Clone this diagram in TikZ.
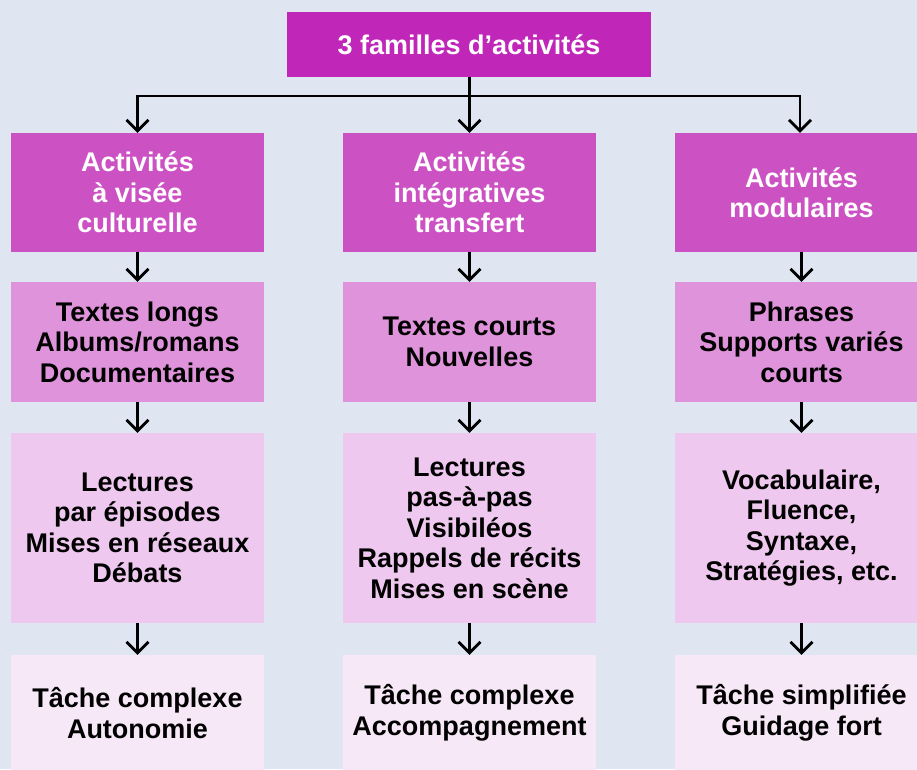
\documentclass[tikz,border=0pt]{standalone}
\usepackage{fontspec}
\setmainfont{Liberation Sans}
\usetikzlibrary{arrows.meta}
\definecolor{bgc}{HTML}{DFE6F2}
\definecolor{topc}{HTML}{C026B8}
\definecolor{rowa}{HTML}{CC52C4}
\definecolor{rowb}{HTML}{DF93DB}
\definecolor{rowc}{HTML}{EEC8EE}
\definecolor{rowd}{HTML}{F7E8F7}
\tikzset{
  box/.style={draw=none, minimum width=253pt, inner sep=0pt, align=center,
    font=\fontsize{27}{30.5}\selectfont\bfseries},
  ra/.style={box, fill=rowa, text=white, minimum height=119pt},
  rb/.style={box, fill=rowb, text=black, minimum height=120pt},
  rc/.style={box, fill=rowc, text=black, minimum height=190pt},
  rd/.style={box, fill=rowd, text=black, minimum height=116pt},
  arr/.style={draw=black, line width=2.8pt, -{Straight Barb[length=11pt,width=22pt]}},
  ln/.style={draw=black, line width=2.8pt}
}
\begin{document}
\begin{tikzpicture}[x=1pt,y=-1pt]
\path[use as bounding box, fill=bgc] (0,0) rectangle (917,769);
\clip (0,0) rectangle (917,769);
\node[box, fill=topc, text=white, minimum width=364pt, minimum height=65pt] (top) at (469,44.5) {3 familles d’activités};
% row 1
\node[ra] (a1) at (137.5,192.5) {Activités\\à visée\\culturelle};
\node[ra] (b1) at (469.5,192.5) {Activités\\intégratives\\transfert};
\node[ra] (c1) at (801.5,192.5) {Activités\\modulaires};
% row 2
\node[rb] (a2) at (137.5,342) {Textes longs\\Albums/romans\\Documentaires};
\node[rb] (b2) at (469.5,342) {Textes courts\\Nouvelles};
\node[rb] (c2) at (801.5,342) {Phrases\\Supports variés\\courts};
% row 3
\node[rc] (a3) at (137.5,528) {Lectures\\par épisodes\\Mises en réseaux\\Débats};
\node[rc] (b3) at (469.5,528) {Lectures\\pas-à-pas\\Visibiléos\\Rappels de récits\\Mises en scène};
\node[rc] (c3) at (801.5,528) {Vocabulaire,\\Fluence,\\Syntaxe,\\Stratégies, etc.};
% row 4
\node[rd] (a4) at (137.5,713) {Tâche complexe\\Autonomie};
\node[rd] (b4) at (469.5,713) {Tâche complexe\\Accompagnement};
\node[rd] (c4) at (801.5,713) {Tâche simplifiée\\Guidage fort};
% connectors from top
\coordinate (bus) at (469.5,96);
\draw[arr] (top.south -| bus) -- (b1.north);
\draw[arr] (bus) -| (a1.north);
\draw[arr] (bus) -| ([xshift=-1.5pt]c1.north);
% column connectors
\foreach \c in {a,b,c}{
  \draw[arr] (\c1.south) -- (\c2.north);
  \draw[arr] (\c2.south) -- (\c3.north);
  \draw[arr] (\c3.south) -- (\c4.north);
}
\end{tikzpicture}
\end{document}
